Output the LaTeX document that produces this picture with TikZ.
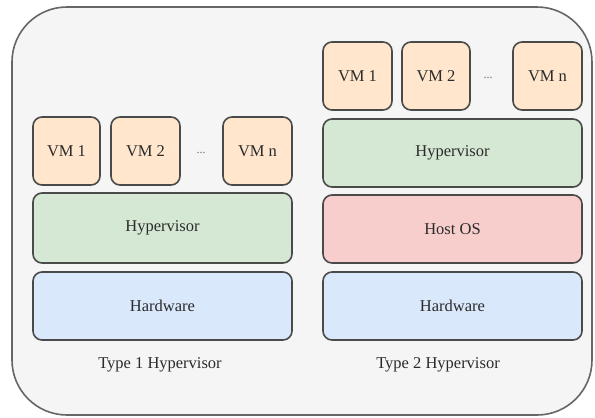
\documentclass[tikz,border=0pt]{standalone}
\usepackage{fontspec}
\setmainfont{Liberation Serif}
\newfontfamily\tnr{Liberation Serif}
\begin{document}
\begin{tikzpicture}[x=1pt,y=-1pt,
  layer/.style={draw=boxline,line width=1.6pt,rounded corners=9pt,inner sep=0pt,
    text=txt,font=\tnr\fontsize{16.5}{18}\selectfont},
  vm/.style={layer,fill=vmfill},
  hyp/.style={layer,fill=hypfill},
  os/.style={layer,fill=osfill},
  hw/.style={layer,fill=hwfill},
  captext/.style={text=txt,font=\tnr\fontsize{16.5}{18}\selectfont},
  dots/.style={text=txt!70,font=\tnr\fontsize{12}{14}\selectfont}
]
\definecolor{boxline}{HTML}{4A4A4A}
\definecolor{txt}{HTML}{2B2B2B}
\definecolor{vmfill}{HTML}{FFE6CC}
\definecolor{hypfill}{HTML}{D5E8D4}
\definecolor{osfill}{HTML}{F8CECC}
\definecolor{hwfill}{HTML}{DAE8FC}
\definecolor{bgfill}{HTML}{F5F5F5}
\definecolor{bgline}{HTML}{666666}
\useasboundingbox (0,0) rectangle (595,418);
\fill[white] (0,0) rectangle (595,418);
\draw[draw=bgline,fill=bgfill,line width=1.6pt,rounded corners=55pt] (12,7) rectangle (592,415);
% left stack
\node[vm,minimum width=67pt,minimum height=68pt] (l1) at (66.5,151) {VM 1};
\node[vm,minimum width=69pt,minimum height=68pt] (l2) at (145.5,151) {VM 2};
\node[dots] (ld) at (201,153) {...};
\node[vm,minimum width=69pt,minimum height=68pt] (ln) at (257.5,151) {VM n};
\node[hyp,minimum width=259pt,minimum height=70pt] (lh) at (162.5,228) {Hypervisor};
\node[hw,minimum width=259pt,minimum height=68pt] (lw) at (162.5,306) {Hardware};
\node[captext] (lc) at (160,365) {Type 1 Hypervisor};
% right stack
\node[vm,minimum width=69pt,minimum height=68pt] (r1) at (357.5,76) {VM 1};
\node[vm,minimum width=68pt,minimum height=68pt] (r2) at (436,76) {VM 2};
\node[dots] (rd) at (488,78) {...};
\node[vm,minimum width=69pt,minimum height=68pt] (rn) at (547.5,76) {VM n};
\node[hyp,minimum width=259pt,minimum height=68pt] (rh) at (452.5,153) {Hypervisor};
\node[os,minimum width=259pt,minimum height=68pt] (ro) at (452.5,229) {Host OS};
\node[hw,minimum width=259pt,minimum height=68pt] (rw) at (452.5,306) {Hardware};
\node[captext] (rc) at (438,365) {Type 2 Hypervisor};
\end{tikzpicture}
\end{document}
